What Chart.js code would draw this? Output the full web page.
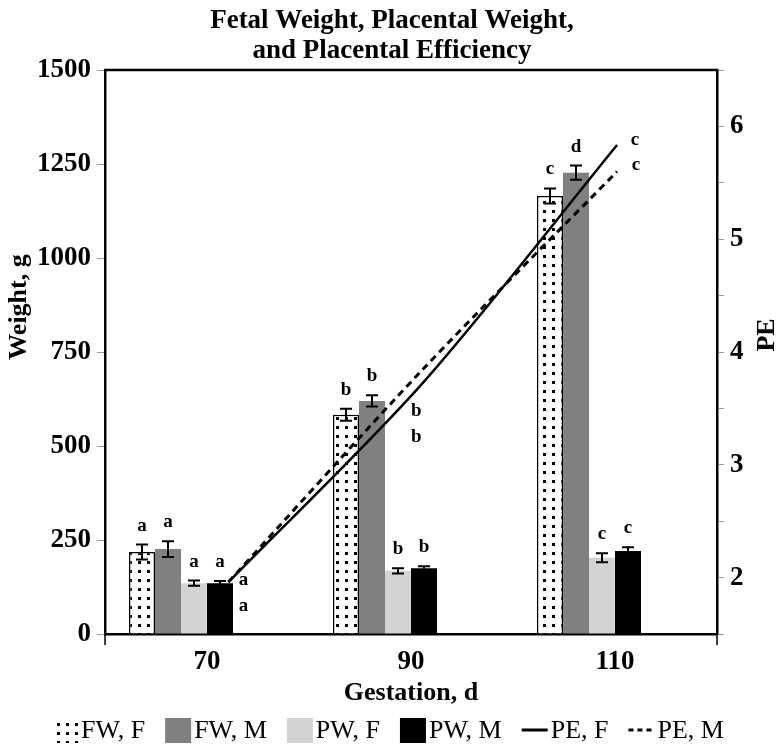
<!DOCTYPE html>
<html><head><meta charset="utf-8">
<script src="https://cdn.jsdelivr.net/npm/chart.js@4.4.1/dist/chart.umd.min.js"></script>
<style>html,body{margin:0;padding:0;background:#fff}#wrap{width:784px;height:751px}</style>
</head><body><div id="wrap"><canvas id="c" width="784" height="751"></canvas></div>
<script>
// ---- data ----
const categories = ['70', '90', '110'];          // gestation, d
const fwF = [218, 583, 1165];
const fwFErr = [20, 16, 20];
const fwM = [226, 620, 1227];
const fwMErr = [21, 15, 19];
const pwF = [135, 168, 203];
const pwFErr = [7, 7, 12];
const pwM = [135, 175, 221];
const pwMErr = [6, 5, 10];
const peDays = [72.1, 91.1, 110.2];              // x position of PE points (days)
const peF = [1.96, 3.72, 5.835];
const peM = [1.96, 3.84, 5.60];
const fwFLetters = ['a', 'b', 'c'];
const fwMLetters = ['a', 'b', 'd'];
const pwFLetters = ['a', 'b', 'c'];
const pwMLetters = ['a', 'b', 'c'];
const peFLetters = ['a', 'b', 'c'];
const peMLetters = ['a', 'b', 'c'];
const dayTicks = [70, 90, 110];
const weightTicks = [0, 250, 500, 750, 1000, 1250, 1500];

// ---- styles ----
const FONT = '"Liberation Serif", "Times New Roman", serif';
const peFLabelOffset = [[15, 3], [-6, 32], [18, 0]];
const peMLabelOffset = [[15, 29], [-6, 72], [19, -2]];

function makeDots() {
  const c = document.createElement('canvas');
  c.width = 9; c.height = 9;
  const g = c.getContext('2d');
  g.fillStyle = '#fff'; g.fillRect(0, 0, 9, 9);
  g.fillStyle = '#000'; g.fillRect(3, 3, 3, 3);
  return g.createPattern(c, 'repeat');
}
const ctx = document.getElementById('c').getContext('2d');
const dots = makeDots();

const annot = {
  id: 'annot',
  beforeDatasetsDraw(chart) {
    const {ctx, chartArea: a} = chart;
    ctx.save();
    ctx.strokeStyle = '#000'; ctx.lineWidth = 2.5;
    ctx.beginPath(); ctx.moveTo(a.left - 1, a.top); ctx.lineTo(a.right + 1, a.top); ctx.stroke();
    ctx.lineWidth = 1.5;
    ctx.beginPath();
    ctx.moveTo(a.left, a.bottom); ctx.lineTo(a.left, a.bottom + 11);
    ctx.moveTo(a.right, a.bottom); ctx.lineTo(a.right, a.bottom + 11);
    ctx.stroke();
    ctx.restore();
  },
  afterDatasetsDraw(chart) {
    const {ctx} = chart;
    const yS = chart.scales.y;
    ctx.save();
    ctx.font = 'bold 19px ' + FONT;
    ctx.textAlign = 'center';
    ctx.textBaseline = 'alphabetic';
    chart.data.datasets.forEach((ds, di) => {
      const meta = chart.getDatasetMeta(di);
      if (ds.err) {
        meta.data.forEach((bar, i) => {
          const v = ds.data[i], e = ds.err[i];
          const yT = yS.getPixelForValue(v + e), yB = yS.getPixelForValue(v - e);
          const x = bar.x;
          ctx.strokeStyle = '#000'; ctx.lineWidth = 2;
          ctx.beginPath();
          ctx.moveTo(x, yT); ctx.lineTo(x, yB);
          ctx.moveTo(x - 6, yT); ctx.lineTo(x + 6, yT);
          ctx.moveTo(x - 6, yB); ctx.lineTo(x + 6, yB);
          ctx.stroke();
          ctx.fillStyle = '#000';
          ctx.fillText(ds.letters[i], x, yT - 14);
        });
      } else if (ds.letters && ds.labelOffset) {
        meta.data.forEach((pt, i) => {
          const o = ds.labelOffset[i];
          ctx.fillStyle = '#000';
          ctx.fillText(ds.letters[i], pt.x + o[0], pt.y + o[1]);
        });
      }
    });
    ctx.restore();
  },
  afterDraw(chart) {
    const {ctx, chartArea: a} = chart;
    ctx.save();
    ctx.font = 'bold 26px ' + FONT;
    ctx.fillStyle = '#000';
    ctx.textAlign = 'center'; ctx.textBaseline = 'middle';
    const mid = (a.top + a.bottom) / 2;
    ctx.save(); ctx.translate(19, mid - 45); ctx.rotate(-Math.PI / 2); ctx.fillText('Weight, g', 0, 0); ctx.restore();
    ctx.save(); ctx.translate(767, mid - 17); ctx.rotate(-Math.PI / 2); ctx.fillText('PE', 0, 0); ctx.restore();
    // legend
    const items = chart.data.datasets.filter(d => d.label);
    ctx.font = '26px ' + FONT;
    const sw = 26, gap = 3, space = 20;
    const widths = items.map(d => sw + gap + ctx.measureText(d.label).width);
    const total = widths.reduce((s, w) => s + w, 0) + space * (items.length - 1);
    let x = (chart.width - total) / 2 - 4;
    const y = 730;
    ctx.textAlign = 'left'; ctx.textBaseline = 'middle';
    items.forEach((d, i) => {
      if (d.type === 'line') {
        ctx.strokeStyle = '#000'; ctx.lineWidth = 3;
        ctx.setLineDash(d.borderDash ? [5, 4] : []);
        ctx.beginPath(); ctx.moveTo(x, y); ctx.lineTo(x + sw, y); ctx.stroke();
        ctx.setLineDash([]);
      } else {
        ctx.fillStyle = d.backgroundColor;
        ctx.fillRect(x, y - 12, sw, 25);
      }
      ctx.fillStyle = '#000';
      ctx.fillText(d.label, x + sw + gap, y + 1);
      x += widths[i] + space;
    });
    ctx.restore();
  }
};

const tickFont = {family: FONT, size: 27, weight: 'bold'};
const barBase = {type: 'bar', xAxisID: 'x', yAxisID: 'y', order: 1, borderWidth: 0};

new Chart(ctx, {
  data: {
    labels: categories,
    datasets: [
      Object.assign({}, barBase, {label: 'FW, F', data: fwF, err: fwFErr, letters: fwFLetters, backgroundColor: dots, borderColor: '#000', borderWidth: 1.5}),
      Object.assign({}, barBase, {label: 'FW, M', data: fwM, err: fwMErr, letters: fwMLetters, backgroundColor: '#808080'}),
      Object.assign({}, barBase, {label: 'PW, F', data: pwF, err: pwFErr, letters: pwFLetters, backgroundColor: '#d3d3d3'}),
      Object.assign({}, barBase, {label: 'PW, M', data: pwM, err: pwMErr, letters: pwMLetters, backgroundColor: '#000'}),
      Object.assign({}, barBase, {label: '', data: categories.map(() => null)}),
      Object.assign({}, barBase, {label: '', data: categories.map(() => null)}),
      {type: 'line', label: 'PE, F', data: peF.map((v, i) => ({x: peDays[i], y: v})), letters: peFLetters, labelOffset: peFLabelOffset,
       xAxisID: 'x', yAxisID: 'y2', borderColor: '#000', borderWidth: 2.5, pointRadius: 0, tension: 0.3, fill: false, order: 0},
      {type: 'line', label: 'PE, M', data: peM.map((v, i) => ({x: peDays[i], y: v})), letters: peMLetters, labelOffset: peMLabelOffset,
       xAxisID: 'x', yAxisID: 'y2', borderColor: '#000', borderWidth: 3, borderDash: [7, 5], pointRadius: 0, tension: 0.3, fill: false, order: 0}
    ]
  },
  options: {
    responsive: false,
    animation: false,
    devicePixelRatio: 1,
    layout: {padding: {top: 0, left: 0, right: 0, bottom: 40}},
    datasets: {bar: {categoryPercentage: 0.7647, barPercentage: 1}},
    plugins: {
      legend: {display: false},
      tooltip: {enabled: false},
      title: {
        display: true,
        text: ['Fetal Weight, Placental Weight,', 'and Placental Efficiency'],
        color: '#000',
        font: {family: FONT, size: 27, weight: 'bold', lineHeight: 1.1},
        padding: {top: 6, bottom: 4.6}
      }
    },
    scales: {
      x: {
        type: 'linear', position: 'bottom', min: 60, max: 120, offset: false,
        afterBuildTicks: s => { s.ticks = dayTicks.map(v => ({value: v})); },
        grid: {drawOnChartArea: false, tickLength: 10, color: 'rgba(0,0,0,0)'},
        border: {display: true, color: '#000', width: 2.5},
        ticks: {font: tickFont, color: '#000', padding: 2, maxRotation: 0, callback: v => String(v)},
        title: {display: true, text: 'Gestation, d', color: '#000', font: {family: FONT, size: 26, weight: 'bold'}, padding: {top: 0, bottom: 2}},
        afterFit: s => { s.height = 77; }
      },
      y: {
        type: 'linear', position: 'left', min: 0, max: 1500,
        afterBuildTicks: s => { s.ticks = weightTicks.map(v => ({value: v})); },
        grid: {drawOnChartArea: false, tickLength: 8, color: '#999', lineWidth: 1},
        border: {display: true, color: '#000', width: 2.5},
        ticks: {font: tickFont, color: '#000', padding: 6, callback: v => String(v)},
        title: {display: false},
        afterFit: s => { s.width = 105; }
      },
      y2: {
        type: 'linear', position: 'right', min: 1.5, max: 6.5,
        grid: {drawOnChartArea: false, tickLength: 7, color: '#999', lineWidth: 1},
        border: {display: true, color: '#000', width: 2.5},
        ticks: {stepSize: 0.5, font: tickFont, color: '#000', padding: 6,
                callback: v => Number.isInteger(v) ? String(v) : ''},
        title: {display: false},
        afterFit: s => { s.width = 67; }
      }
    }
  },
  plugins: [annot]
});
</script>
</body></html>
